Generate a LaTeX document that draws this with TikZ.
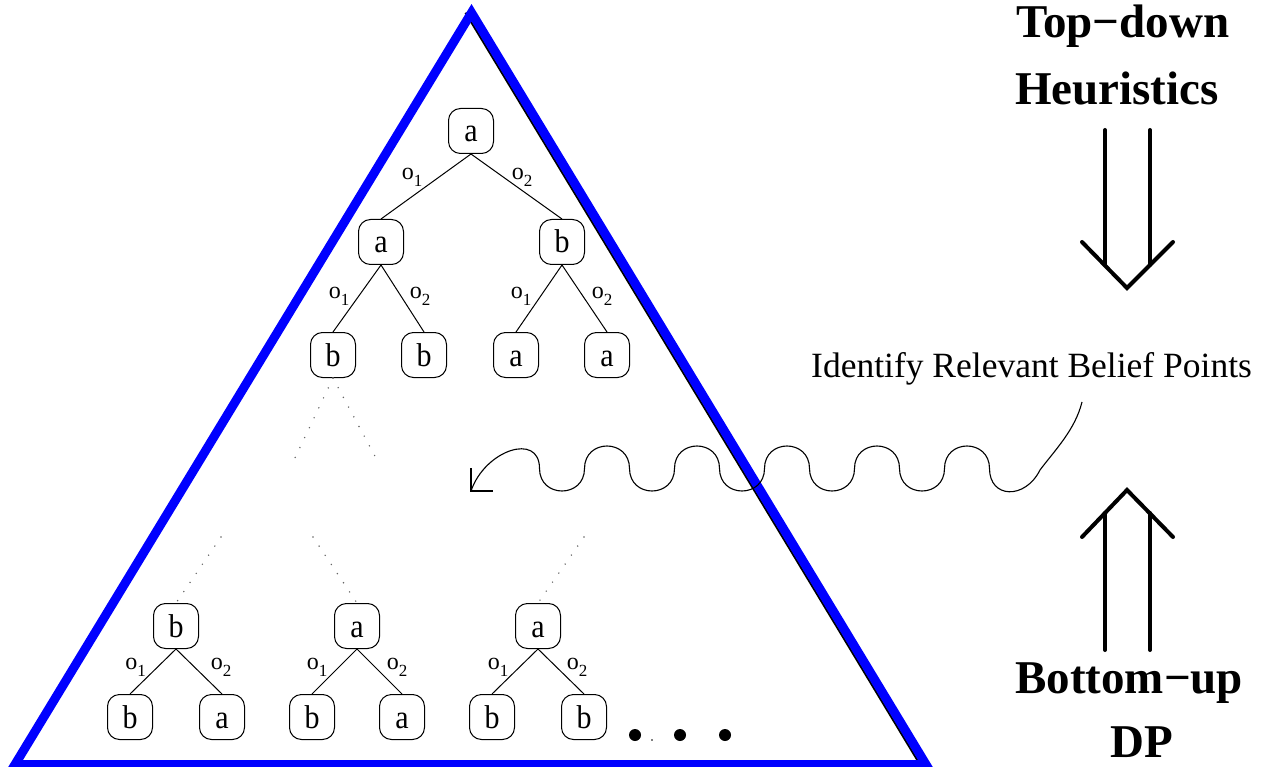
\documentclass[tikz,border=0pt]{standalone}
\usepackage{fontspec}
\setmainfont{Liberation Serif}
\newcommand{\ob}[1]{o\raisebox{-0.28em}{\fontsize{17}{17}\selectfont #1}}
\newcommand{\tall}[1]{\scalebox{1}[1.1]{#1}}
\tikzset{
  st/.style={draw, rounded corners=12pt, minimum width=45pt, minimum height=45pt,
    inner sep=0pt, line width=1pt, font=\fontsize{30}{30}\selectfont,
    text height=22pt, text depth=0pt},
  lab/.style={inner sep=0pt, font=\fontsize{24}{24}\selectfont},
  edge/.style={line width=1pt},
  dots/.style={line width=1.6pt, dash pattern=on 0pt off 11pt, line cap=round, black!60},
  bigarrow/.style={line width=4pt, line cap=round, line join=miter},
  bold/.style={inner sep=0pt, font=\fontsize{47}{47}\selectfont\bfseries},
  wave/.style={line width=1.1pt}
}
\begin{document}
\begin{tikzpicture}[x=1pt,y=-1pt]
\useasboundingbox (0,0) rectangle (1266,767);
\fill[white] (0,0) rectangle (1266,767);

% triangle
\coordinate (A) at (471.5,12.7);
\coordinate (BL) at (15,764.5);
\coordinate (BR) at (926,764.5);
\coordinate (Ai) at (465.5,12.7);
\coordinate (BRi) at (920,764.5);
\draw[black, line width=2pt] (Ai) -- (BRi);
\draw[blue, line width=9pt, line join=miter] (A) -- (BL) -- (BR) -- cycle;

% top tree
\node[st] (r) at (471,131) {\tall{a}};
\node[st] (l) at (381,242) {\tall{a}};
\node[st] (rr) at (562,242) {\tall{b}};
\node[st] (ll) at (333,355) {\tall{b}};
\node[st] (lr) at (424,355) {\tall{b}};
\node[st] (rl) at (516,355) {\tall{a}};
\node[st] (rrr) at (607,355) {\tall{a}};
\draw[edge] (r.south) -- (l.north);
\draw[edge] (r.south) -- (rr.north);
\draw[edge] (l.south) -- (ll.north);
\draw[edge] (l.south) -- (lr.north);
\draw[edge] (rr.south) -- (rl.north);
\draw[edge] (rr.south) -- (rrr.north);
\node[lab] (t1) at (412,177) {\ob{1}};
\node[lab] (t2) at (522,177) {\ob{2}};
\node[lab] (t3) at (339,296) {\ob{1}};
\node[lab] (t4) at (420,296) {\ob{2}};
\node[lab] (t5) at (521,296) {\ob{1}};
\node[lab] (t6) at (602,296) {\ob{2}};

% dotted continuations
\coordinate (d1) at (294,460);
\coordinate (d2) at (377,460);
\draw[dots] (ll.south) -- (d1);
\draw[dots] (ll.south) -- (d2);

% bottom subtrees
\node[st] (p1) at (176,626) {\tall{b}};
\node[st] (p1a) at (130,717) {\tall{b}};
\node[st] (p1b) at (222,717) {\tall{a}};
\node[st] (p2) at (357,626) {\tall{a}};
\node[st] (p2a) at (312,717) {\tall{b}};
\node[st] (p2b) at (402,717) {\tall{a}};
\node[st] (p3) at (538,626) {\tall{a}};
\node[st] (p3a) at (492,717) {\tall{b}};
\node[st] (p3b) at (584,717) {\tall{b}};
\foreach \p in {p1,p2,p3}{
  \draw[edge] (\p.south) -- (\p a.north);
  \draw[edge] (\p.south) -- (\p b.north);
}
\node[lab] (u1) at (135.5,667) {\ob{1}};
\node[lab] (u2) at (221,667) {\ob{2}};
\node[lab] (u3) at (317,667) {\ob{1}};
\node[lab] (u4) at (397,667) {\ob{2}};
\node[lab] (u5) at (498,667) {\ob{1}};
\node[lab] (u6) at (577,667) {\ob{2}};

\coordinate (e1) at (221,537);
\coordinate (e2) at (313,537);
\coordinate (e3) at (584,537);
\draw[dots] (e1) -- (p1.north);
\draw[dots] (e2) -- (p2.north);
\draw[dots] (e3) -- (p3.north);

% ellipsis dots
\fill (635,735) circle (6);
\fill (680,735) circle (6);
\fill (725,735) circle (6);
\fill (652,740) circle (0.9);

% right texts
\node[bold, anchor=base west] (td) at (1016,38) {Top−down};
\node[bold, anchor=base west] (he) at (1015,105) {Heuristics};
\node[bold, anchor=base west] (bu) at (1015,693) {Bottom−up};
\node[bold, anchor=base west] (dp) at (1110,757) {DP};
\node[inner sep=0pt, anchor=base west, font=\fontsize{35.5}{35.5}\selectfont] (id) at (811,377) {Identify Relevant Belief Points};

% double arrows
\draw[bigarrow] (1105,130) -- (1105,265);
\draw[bigarrow] (1150,130) -- (1150,265);
\draw[bigarrow] (1082,242) -- (1127,288) -- (1173,242);
\draw[bigarrow] (1105,513) -- (1105,650);
\draw[bigarrow] (1150,513) -- (1150,650);
\draw[bigarrow] (1082,537) -- (1127,490) -- (1173,537);

% wavy connector
\coordinate (ws) at (1082,402);
\coordinate (wt) at (471,491);
\draw[wave] (ws) .. controls (1075,430) and (1055,450) .. (1040,470)
  .. controls (1025,500) and (989.5,498.5) .. (989.5,468.5)
  .. controls (989.5,438.5) and (944.5,438.5) .. (944.5,468.5)
  .. controls (944.5,498.5) and (899.5,498.5) .. (899.5,468.5)
  .. controls (899.5,438.5) and (854.5,438.5) .. (854.5,468.5)
  .. controls (854.5,498.5) and (809.5,498.5) .. (809.5,468.5)
  .. controls (809.5,438.5) and (764.5,438.5) .. (764.5,468.5)
  .. controls (764.5,498.5) and (719.5,498.5) .. (719.5,468.5)
  .. controls (719.5,438.5) and (674.5,438.5) .. (674.5,468.5)
  .. controls (674.5,498.5) and (629.5,498.5) .. (629.5,468.5)
  .. controls (629.5,438.5) and (584.5,438.5) .. (584.5,468.5)
  .. controls (584.5,498.5) and (539.5,498.5) .. (539.5,468.5)
  .. controls (539.5,432) and (485,450) .. (wt);
\coordinate (h1) at (471,468);
\coordinate (h2) at (493,491);
\draw[wave] (h1) -- (wt) -- (h2);
\end{tikzpicture}
\end{document}
